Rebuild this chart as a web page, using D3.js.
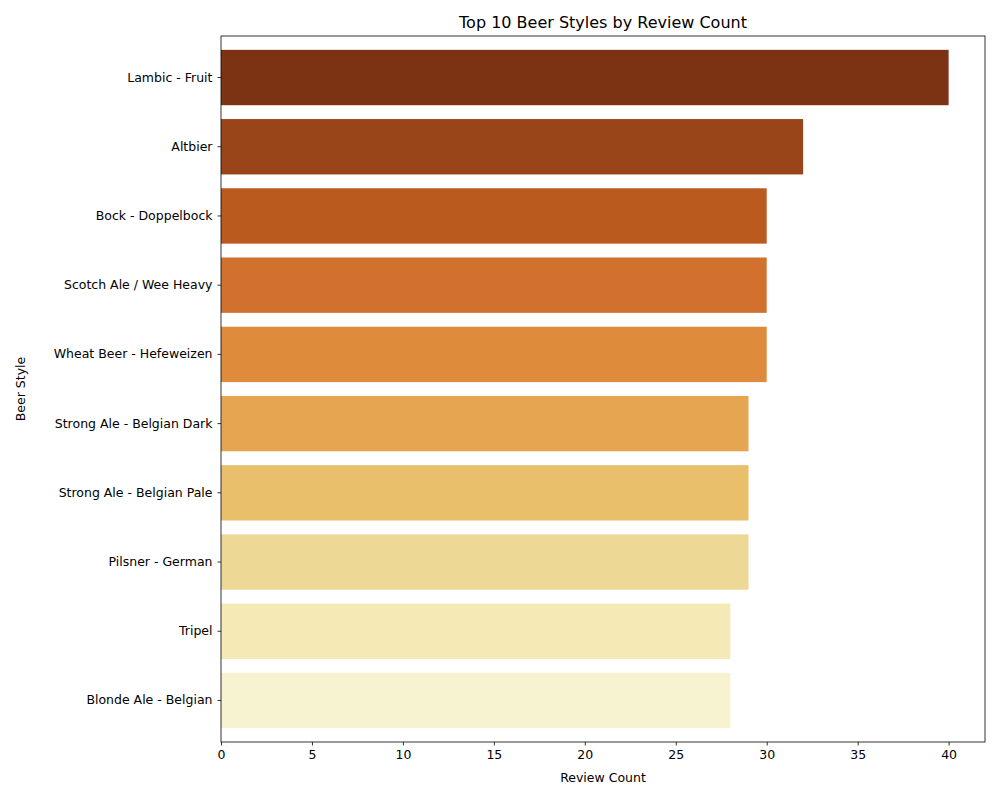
<!DOCTYPE html>
<html>
<head>
<meta charset="utf-8">
<script src="https://cdn.jsdelivr.net/npm/d3@7"></script>
<style>
body { margin: 0; background: #fff; }
text { font-family: "DejaVu Sans", sans-serif; }
</style>
</head>
<body>
<svg id="chart" width="1000" height="800"></svg>
<script>
// data
var styles = ["Lambic - Fruit", "Altbier", "Bock - Doppelbock", "Scotch Ale / Wee Heavy",
  "Wheat Beer - Hefeweizen", "Strong Ale - Belgian Dark", "Strong Ale - Belgian Pale",
  "Pilsner - German", "Tripel", "Blonde Ale - Belgian"];
var counts = [40, 32, 30, 30, 30, 29, 29, 29, 28, 28];
var colors = ["#7b3314", "#9a4519", "#ba5a1f", "#d1712d", "#df8b3c",
  "#e5a551", "#e9bf6c", "#eed896", "#f5e9b5", "#f7f3d0"];
var xTicks = [0, 5, 10, 15, 20, 25, 30, 35, 40];

var m = {left: 221, right: 985, top: 36, bottom: 742};
var svg = d3.select("#chart");

var x = d3.scaleLinear().domain([0, 42]).range([m.left, m.right]);
var y = d3.scaleBand().domain(styles).range([m.top, m.bottom]).padding(0.2);

svg.selectAll("rect.bar")
  .data(styles)
  .enter()
  .append("rect")
  .attr("class", "bar")
  .attr("x", x(0))
  .attr("y", function(d){ return y(d); })
  .attr("width", function(d, i){ return x(counts[i]) - x(0); })
  .attr("height", y.bandwidth())
  .attr("fill", function(d, i){ return colors[i]; });

// frame
svg.append("rect")
  .attr("x", m.left).attr("y", m.top)
  .attr("width", m.right - m.left).attr("height", m.bottom - m.top)
  .attr("fill", "none").attr("stroke", "#000").attr("stroke-width", 0.8);

var xa = svg.append("g")
  .attr("transform", "translate(0," + m.bottom + ")")
  .call(d3.axisBottom(x).tickValues(xTicks).tickSize(3.5).tickPadding(5));
var ya = svg.append("g")
  .attr("transform", "translate(" + m.left + ",0)")
  .call(d3.axisLeft(y).tickSize(3.5).tickPadding(5));
[xa, ya].forEach(function(a){
  a.select(".domain").remove();
  a.selectAll("text").attr("font-size", 12.5).attr("fill", "#000").style("font-family", "DejaVu Sans, sans-serif");
  a.selectAll("line").attr("stroke", "#000").attr("stroke-width", 0.8);
});

svg.append("text")
  .attr("x", (m.left + m.right) / 2).attr("y", 28)
  .attr("text-anchor", "middle").attr("font-size", 16)
  .text("Top 10 Beer Styles by Review Count");
svg.append("text")
  .attr("x", (m.left + m.right) / 2).attr("y", 782)
  .attr("text-anchor", "middle").attr("font-size", 12.5)
  .text("Review Count");
svg.append("text")
  .attr("transform", "translate(25," + ((m.top + m.bottom) / 2) + ") rotate(-90)")
  .attr("text-anchor", "middle").attr("font-size", 12.5)
  .text("Beer Style");
</script>
</body>
</html>
